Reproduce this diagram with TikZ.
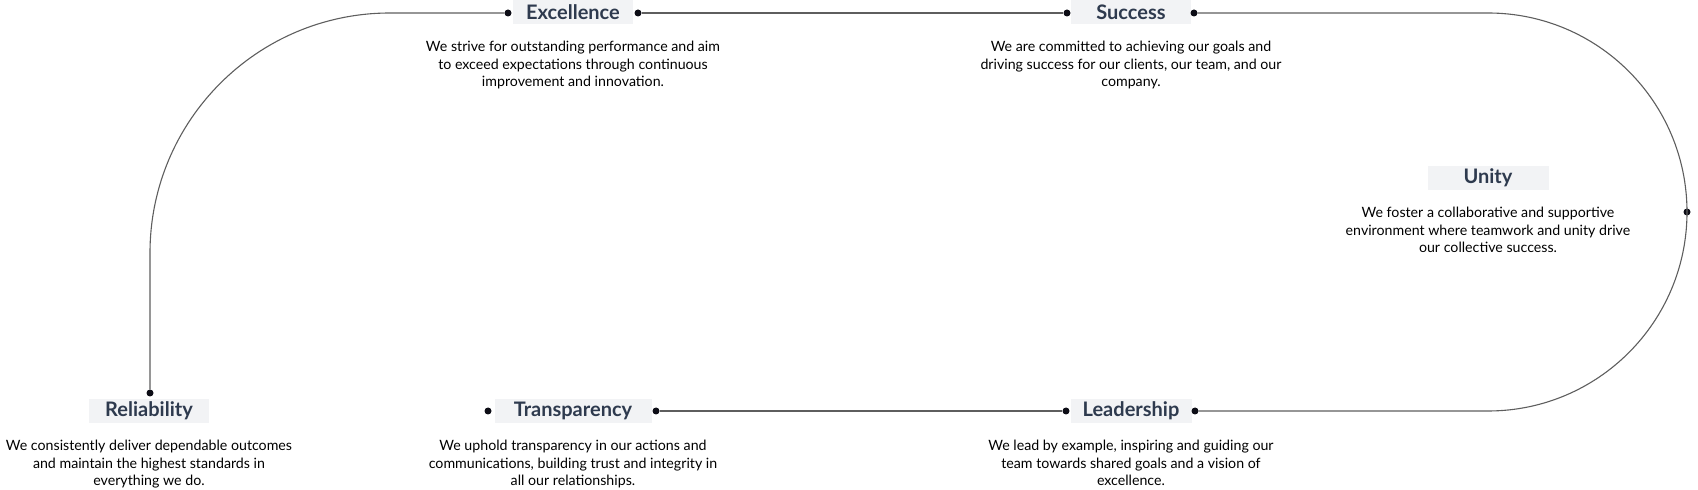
\documentclass[tikz,border=0pt]{standalone}
\usepackage{fontspec}
\setmainfont{Lato}
\usetikzlibrary{positioning}
\definecolor{titleink}{HTML}{2E3A4E}
\definecolor{boxfill}{HTML}{F2F3F5}
\definecolor{lineink}{HTML}{5E5E5E}
\definecolor{dotink}{HTML}{0D0D16}
\begin{document}
\begin{tikzpicture}[x=1pt,y=1pt,
    title/.style={fill=boxfill,text=titleink,minimum height=24pt,inner sep=0pt,
                  font=\fontsize{20}{24}\selectfont\bfseries},
    desc/.style={below=17pt of #1,align=center,inner sep=0pt,text=black,
                 font=\fontsize{14.2}{17.5}\selectfont},
    dot/.style={circle,fill=dotink,inner sep=0pt,minimum size=7pt},
    link/.style={draw=lineink,line width=1.1pt}]
  \useasboundingbox (0,0) rectangle (1698,490);
  % titles
  \node[title,minimum width=120pt] (exc) at (573,478) {Excellence};
  \node[title,minimum width=120pt] (suc) at (1131,478) {Success};
  \node[title,minimum width=121pt] (uni) at (1488,312) {Unity};
  \node[title,minimum width=120pt] (rel) at (149,79) {Reliability};
  \node[title,minimum width=157pt] (tra) at (573,79) {Transparency};
  \node[title,minimum width=121pt] (lea) at (1131,79) {Leadership};
  % descriptions
  \node[desc=exc] (exc-d) {We strive for outstanding performance and aim\\
    to exceed expectations through continuous\\improvement and innovation.};
  \node[desc=suc] (suc-d) {We are committed to achieving our goals and\\
    driving success for our clients, our team, and our\\company.};
  \node[desc=uni] (uni-d) {We foster a collaborative and supportive\\
    environment where teamwork and unity drive\\our collective success.};
  \node[desc=rel] (rel-d) {We consistently deliver dependable outcomes\\
    and maintain the highest standards in\\everything we do.};
  \node[desc=tra] (tra-d) {We uphold transparency in our actions and\\
    communications, building trust and integrity in\\all our relationships.};
  \node[desc=lea] (lea-d) {We lead by example, inspiring and guiding our\\
    team towards shared goals and a vision of\\excellence.};
  % dots
  \node[dot] (exc-l) at (508,477) {};
  \node[dot] (exc-r) at (638,477) {};
  \node[dot] (suc-l) at (1067,477) {};
  \node[dot] (suc-r) at (1194,477) {};
  \node[dot] (uni-r) at (1687,278) {};
  \node[dot] (rel-t) at (150,97) {};
  \node[dot] (tra-l) at (488,79) {};
  \node[dot] (tra-r) at (656,79) {};
  \node[dot] (lea-l) at (1066,79) {};
  \node[dot] (lea-r) at (1195,79) {};
  % track
  \draw[link] (rel-t) -- ++(0,140)
     arc[start angle=180,end angle=90,radius=240] -- (exc-l);
  \draw[link] (exc-r) -- (suc-l);
  \draw[link] (suc-r) -- (1488,477)
     arc[start angle=90,end angle=-90,radius=199] -- (lea-r);
  \draw[link] (tra-r) -- (lea-l);
\end{tikzpicture}
\end{document}
